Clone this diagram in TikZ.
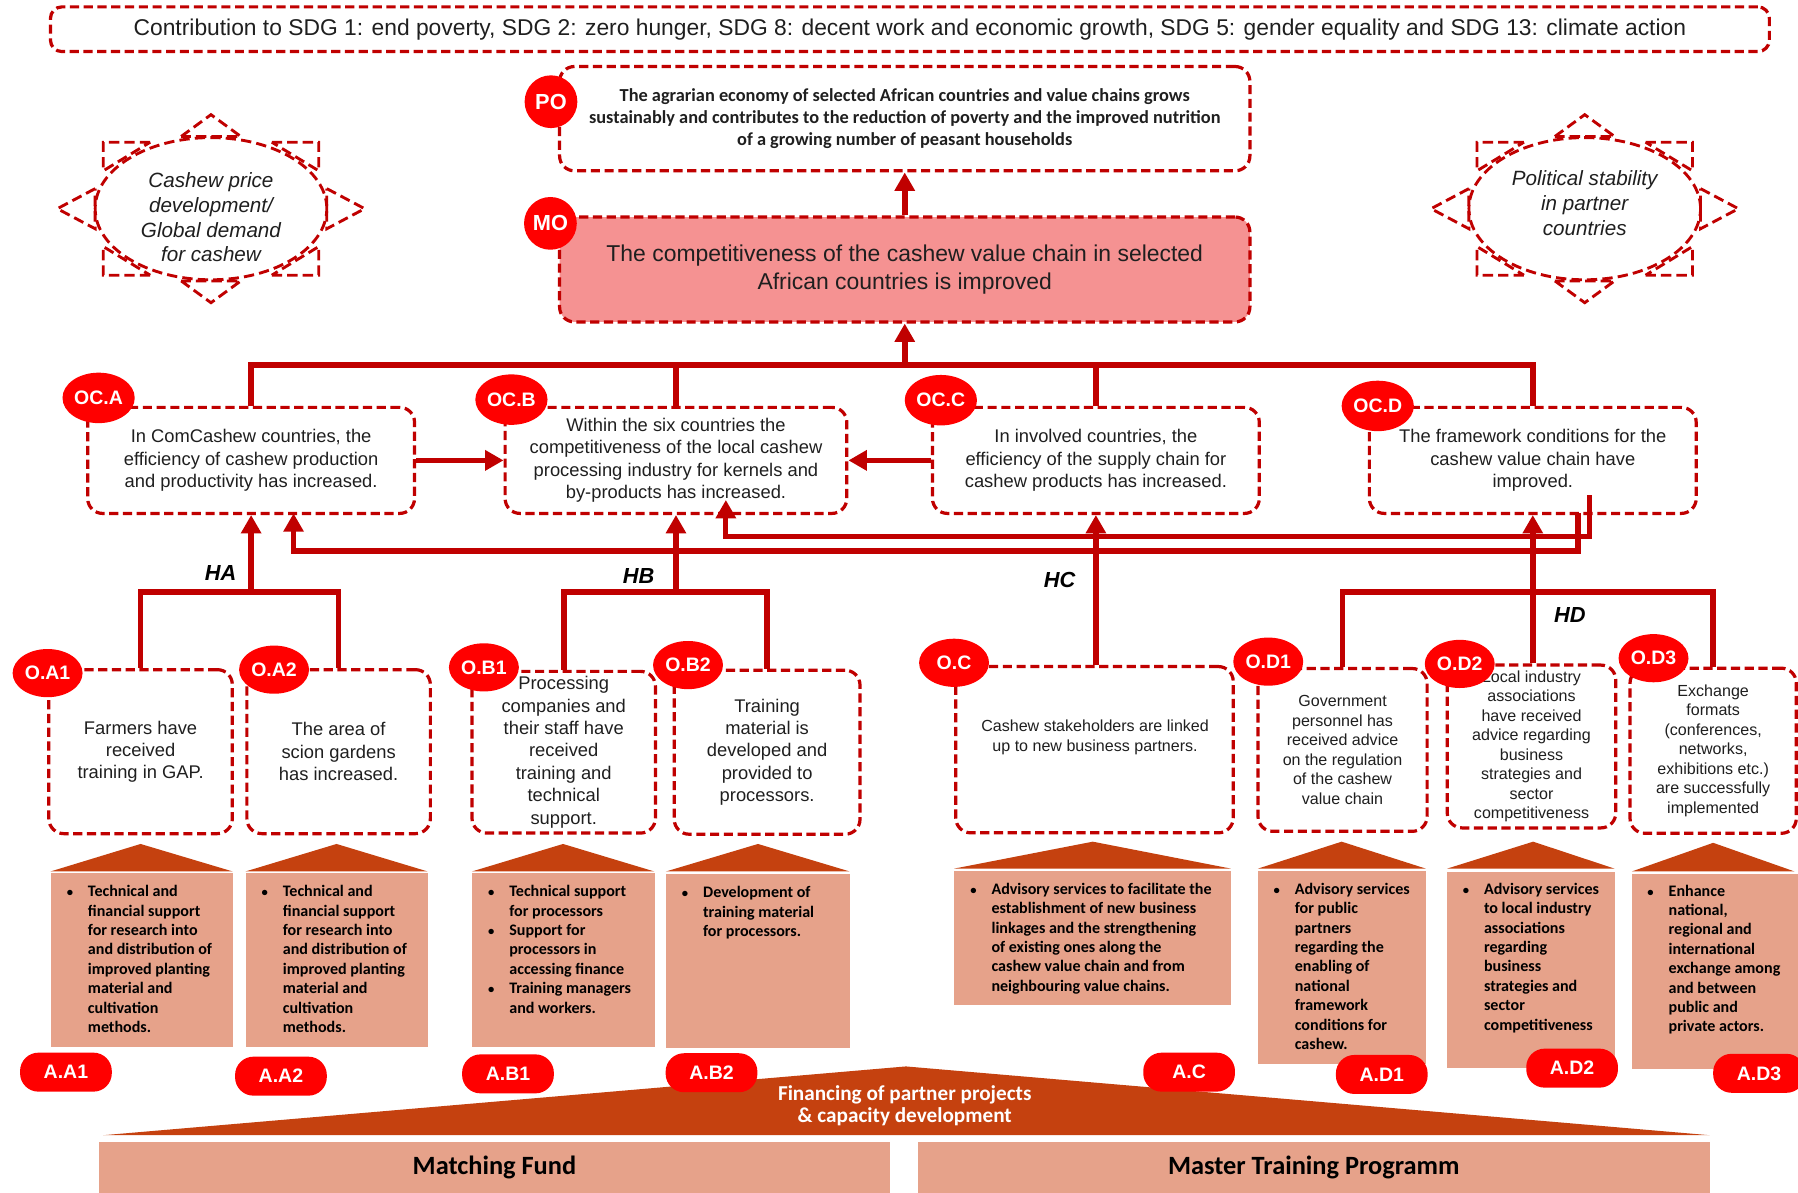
\documentclass[tikz,border=0pt]{standalone}
\usepackage{fontspec}
\setmainfont{Liberation Sans}
\newfontfamily\calfont{Carlito}
\usetikzlibrary{arrows.meta,shapes.geometric}
\definecolor{dred}{HTML}{C00000}
\definecolor{lred}{HTML}{FF0000}
\definecolor{mofill}{HTML}{F59292}
\definecolor{salmon}{HTML}{E6A28A}
\definecolor{roofc}{HTML}{C5410F}
\definecolor{txt}{HTML}{1F1F1F}
\newcommand{\bul}{\llap{{\fontsize{11}{11}\selectfont\textbullet}\hspace{13pt}}}
\tikzset{
  dbox/.style={draw=dred, line width=2.8pt, dash pattern=on 8pt off 4pt, rounded corners=13pt, fill=white, inner sep=0pt, align=center, text=txt},
  conn/.style={draw=dred, line width=5pt},
  arr/.style={conn, -{Triangle[width=17pt,length=16pt]}},
  ocfont/.style={font=\fontsize{16}{19.5}\selectfont},
  smfont/.style={font=\fontsize{14}{17}\selectfont},
  lab/.style={ellipse, fill=lred, text=white, font=\fontsize{17}{20}\selectfont\bfseries, inner sep=0pt, minimum width=63pt, minimum height=44pt},
  olab/.style={lab, minimum width=61pt, minimum height=42pt},
  circlab/.style={circle, fill=lred, text=white, font=\fontsize{19}{22}\selectfont\bfseries, inner sep=0pt, minimum size=46pt},
  alab/.style={rectangle, rounded corners=16pt, fill=lred, text=white, font=\fontsize{17}{20}\selectfont\bfseries, minimum width=80pt, minimum height=34pt, inner sep=0pt},
  actbox/.style={fill=salmon, inner sep=0pt, anchor=north west},
  acttext/.style={anchor=north west, align=left, inner sep=0pt, font=\calfont\bfseries\fontsize{14}{16.9}\selectfont, text=black},
  sunline/.style={draw=dred, line width=2.5pt, dash pattern=on 9pt off 4.5pt},
  suntext/.style={align=center, inner sep=0pt, text=txt, font=\itshape\fontsize{18}{21.7}\selectfont},
  hlab/.style={inner sep=0pt, font=\bfseries\itshape\fontsize{19}{22}\selectfont},
  barbox/.style={fill=salmon, inner sep=0pt, anchor=north west, text=black, font=\calfont\bfseries\fontsize{23}{27}\selectfont},
}
\begin{document}
\begin{tikzpicture}[x=1pt,y=-1pt]
\fill[white] (0,0) rectangle (1568,1040);
\useasboundingbox (0,0) rectangle (1568,1040);

% top boxes
\node[dbox, rounded corners=10pt, minimum width=1499pt, minimum height=39pt, font=\fontsize{19.9}{24}\selectfont] (sdg) at (793.5,25.5) {Contribution to SDG 1: end poverty, SDG 2: zero hunger, SDG 8: decent work and economic growth, SDG 5: gender equality and SDG 13: climate action};
\node[dbox, minimum width=602pt, minimum height=91pt, font=\calfont\bfseries\fontsize{16}{19}\selectfont] (po) at (789,103.5) {The agrarian economy of selected African countries and value chains grows\\sustainably and contributes to the reduction of poverty and the improved nutrition\\of a growing number of peasant households};
\node[dbox, fill=mofill, minimum width=602pt, minimum height=91.5pt, font=\fontsize{20}{24.7}\selectfont] (mo) at (789,235) {The competitiveness of the cashew value chain in selected\\African countries is improved};

% suns
\foreach \cx/\cy in {184/182, 1382/182}{
\begin{scope}[shift={(\cx,\cy)}]
  \draw[sunline] (0,0) ellipse [x radius=101pt, y radius=62pt];
  \draw[sunline] (-26,-63) -- (0,-82) -- (26,-63) -- cycle;
  \draw[sunline] (-26,63) -- (0,82) -- (26,63) -- cycle;
  \draw[sunline] (-101,-17.5) -- (-134,0) -- (-101,17.5) -- cycle;
  \draw[sunline] (101,-17.5) -- (134,0) -- (101,17.5) -- cycle;
  \draw[sunline] (-53,-58) -- (-94,-58) -- (-94,-33) -- cycle;
  \draw[sunline] (53,-58) -- (94,-58) -- (94,-33) -- cycle;
  \draw[sunline] (-53,58) -- (-94,58) -- (-94,33) -- cycle;
  \draw[sunline] (53,58) -- (94,58) -- (94,33) -- cycle;
\end{scope}}
\node[suntext] (sun1t) at (184,189.5) {Cashew price\\development/\\Global demand\\for cashew};
\node[suntext] (sun2t) at (1382,177.3) {Political stability\\in partner\\countries};

% outcome boxes
\node[dbox, ocfont, minimum width=285pt, minimum height=92.5pt] (oca) at (219,401.5) {In ComCashew  countries, the\\efficiency of cashew production\\and productivity has increased.};
\node[dbox, ocfont, minimum width=298pt, minimum height=92.5pt] (ocb) at (589.5,401.5) {Within the six countries the\\competitiveness  of the local cashew\\processing industry for kernels and\\by-products has increased.};
\node[dbox, ocfont, minimum width=285pt, minimum height=92.5pt] (occ) at (955.7,401.5) {In involved  countries, the\\efficiency of the supply chain for\\cashew products has increased.};
\node[dbox, ocfont, minimum width=285pt, minimum height=92.5pt] (ocd) at (1336.7,401.5) {The framework conditions for the\\cashew value chain have\\improved.};

% output boxes
\node[dbox, ocfont, minimum width=160pt, minimum height=143pt] (oa1) at (122.6,655.5) {Farmers have\\received\\training in GAP.};
\node[dbox, ocfont, minimum width=160pt, minimum height=143pt] (oa2) at (295.3,655.5) {The area of\\scion gardens\\has increased.};
\node[dbox, ocfont, minimum width=160pt, minimum height=141pt] (ob1) at (491.6,656) {Processing\\companies and\\their staff have\\received\\training and\\technical\\support.};
\node[dbox, ocfont, minimum width=162pt, minimum height=143pt] (ob2) at (669,656) {Training\\material is\\developed  and\\provided to\\processors.};
\node[dbox, minimum width=242pt, minimum height=145pt] (oc) at (954.5,653.8) {};
\node[smfont, align=center, inner sep=0pt, text=txt] (oct) at (955,643) {Cashew stakeholders are linked\\up to new business partners.};
\node[dbox, smfont, minimum width=147.5pt, minimum height=142pt] (od1) at (1170.8,654) {Government\\personnel has\\received advice\\on the regulation\\of the cashew\\value chain};
\node[dbox, smfont, minimum width=147pt, minimum height=142pt] (od2) at (1335.6,651) {Local industry\\associations\\have received\\advice regarding\\business\\strategies and\\sector\\competitiveness};
\node[dbox, smfont, minimum width=145pt, minimum height=144pt] (od3) at (1494,654.7) {Exchange\\formats\\(conferences,\\networks,\\exhibitions etc.)\\are successfully\\implemented};

% connectors
\coordinate (mobus) at (789,318);
\draw[conn] (oca.north) |- (ocd.north |- mobus) -- (ocd.north);
\draw[conn] (ocb.north) -- (ocb.north |- mobus);
\draw[conn] (occ.north) -- (occ.north |- mobus);
\draw[arr] (mo.south |- mobus) -- (mo.south);
\draw[arr] (mo.north) -- (po.south);
\draw[arr] (oca.east) -- (ocb.west);
\draw[arr] (occ.west) -- (ocb.east);

\coordinate (fb1s) at (1386,432);
\coordinate (fb1e) at (633,436);
\draw[arr, line width=4.5pt] (fb1s) -- ++(0,36) -| (fb1e);
\coordinate (fb2s) at (1376,447.7);
\coordinate (fb2e) at (256,447.7);
\draw[arr] (fb2s) -- ++(0,32.5) -| (fb2e);

\coordinate (hbar) at (219,516);
\draw[conn] (oa1.north) |- (oa2.north |- hbar) -- (oa2.north);
\draw[arr] (oca.south |- hbar) -- (oca.south);
\draw[conn] (ob1.north) |- (ob2.north |- hbar) -- (ob2.north);
\draw[arr] (ocb.south |- hbar) -- (ocb.south);
\draw[arr] (occ.south |- oc.north) -- (occ.south);
\draw[conn] (od1.north) |- (od3.north |- hbar) -- (od3.north);
\draw[arr] (ocd.south |- od2.north) -- (ocd.south);

\node[hlab] (ha) at (192.4,500) {HA};
\node[hlab] (hb) at (557,502) {HB};
\node[hlab] (hc) at (924,506) {HC};
\node[hlab] (hd) at (1369,536.5) {HD};

% labels
\node[circlab] (pol) at (480.5,88.7) {PO};
\node[circlab] (mol) at (480,194.8) {MO};
\node[lab] (ocal) at (86,347) {OC.A};
\node[lab] (ocbl) at (446,348.5) {OC.B};
\node[lab] (occl) at (820.5,349) {OC.C};
\node[lab] (ocdl) at (1201.5,354) {OC.D};
\node[olab] (oa1l) at (41.5,587) {O.A1};
\node[olab] (oa2l) at (239,584) {O.A2};
\node[olab] (ob1l) at (422,582) {O.B1};
\node[olab] (ob2l) at (600,580) {O.B2};
\node[olab] (ocl) at (832,578) {O.C};
\node[olab] (od1l) at (1106,577) {O.D1};
\node[olab] (od2l) at (1273,579) {O.D2};
\node[olab] (od3l) at (1442,574) {O.D3};

% activities: roofs and boxes
\fill[roofc] (44,760) -- (122.6,736) -- (203,760) -- cycle;
\fill[roofc] (214,760) -- (293.5,736) -- (373,760) -- cycle;
\fill[roofc] (411.5,760) -- (491,736) -- (570.7,760) -- cycle;
\fill[roofc] (580.7,760) -- (661,736) -- (741,760) -- cycle;
\fill[roofc] (832,757.5) -- (953,734) -- (1073.5,757.5) -- cycle;
\fill[roofc] (1097,757.5) -- (1170,734) -- (1243.4,757.5) -- cycle;
\fill[roofc] (1262,757.5) -- (1337,734) -- (1408,757.5) -- cycle;
\fill[roofc] (1423,760) -- (1494,735) -- (1565,760) -- cycle;

\node[actbox, minimum width=159pt, minimum height=151pt] (aa1) at (44,761.5) {};
\node[actbox, minimum width=159pt, minimum height=151pt] (aa2) at (214,761.5) {};
\node[actbox, minimum width=159.2pt, minimum height=151pt] (ab1) at (411.5,761.5) {};
\node[actbox, minimum width=160.3pt, minimum height=152pt] (ab2) at (580.7,762) {};
\node[actbox, minimum width=241.5pt, minimum height=117.5pt] (ac) at (832,759) {};
\node[actbox, minimum width=146.4pt, minimum height=169pt] (ad1) at (1097,759) {};
\node[actbox, minimum width=146pt, minimum height=171pt] (ad2) at (1262,760) {};
\node[actbox, minimum width=146pt, minimum height=170pt] (ad3) at (1423,762) {};

\node[acttext] (aa1t) at (76.5,772) {\bul Technical and\\financial support\\for research into\\and distribution of\\improved planting\\material and\\cultivation\\methods.};
\node[acttext] (aa2t) at (246.5,772) {\bul Technical and\\financial support\\for research into\\and distribution of\\improved planting\\material and\\cultivation\\methods.};
\node[acttext] (ab1t) at (444,772) {\bul Technical support\\for processors\\\bul Support for\\processors in\\accessing finance\\\bul Training managers\\and workers.};
\node[acttext] (ab2t) at (613,773) {\bul Development of\\training material\\for processors.};
\node[acttext] (act) at (864.5,770) {\bul Advisory services to facilitate the\\establishment of new business\\linkages and the strengthening\\of existing ones along the\\cashew value chain and from\\neighbouring value chains.};
\node[acttext] (ad1t) at (1129,770) {\bul Advisory services\\for public\\partners\\regarding the\\enabling of\\national\\framework\\conditions for\\cashew.};
\node[acttext] (ad2t) at (1294,770) {\bul Advisory services\\to local industry\\associations\\regarding\\business\\strategies and\\sector\\competitiveness};
\node[acttext] (ad3t) at (1455,771.5) {\bul Enhance\\national,\\regional and\\international\\exchange among\\and between\\public and\\private actors.};

% bottom
\fill[roofc] (90,990) -- (790,930) -- (1491,990) -- cycle;
\node[align=center, inner sep=0pt, text=white, font=\calfont\bfseries\fontsize{18.5}{19}\selectfont] (fin) at (789,964.5) {Financing  of partner projects\\\& capacity development};
\node[barbox, minimum width=690pt, minimum height=44pt] (mf) at (86,996) {Matching Fund};
\node[barbox, minimum width=691pt, minimum height=44pt] (mtp) at (800,996) {Master Training Programm};

% activity labels
\node[alab] (aa1l) at (57.5,935) {A.A1};
\node[alab] (aa2l) at (245,938.5) {A.A2};
\node[alab] (ab1l) at (443,936.5) {A.B1};
\node[alab] (ab2l) at (620.5,935.5) {A.B2};
\node[alab] (acl) at (1037,935) {A.C};
\node[alab] (ad1l) at (1205,937) {A.D1};
\node[alab] (ad2l) at (1371,931.5) {A.D2};
\node[alab] (ad3l) at (1534,936) {A.D3};
\end{tikzpicture}
\end{document}
